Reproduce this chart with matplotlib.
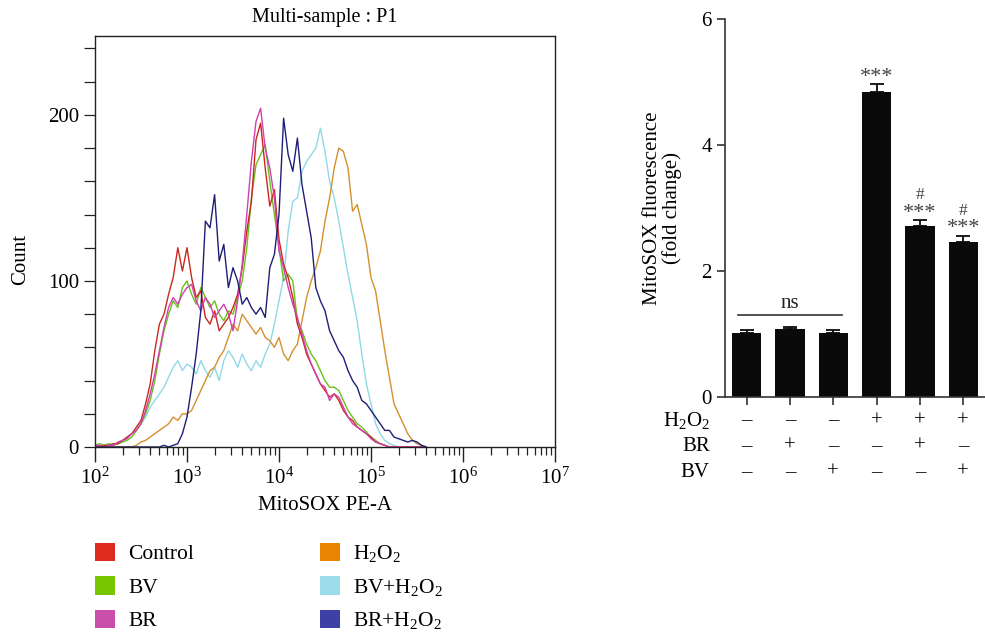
import numpy as np
import matplotlib
matplotlib.use("Agg")
import matplotlib.pyplot as plt
from matplotlib.ticker import LogLocator, NullFormatter, FixedLocator, MultipleLocator, LogFormatterMathtext
from matplotlib.patches import Patch

plt.rcParams['font.family'] = ['Liberation Serif', 'DejaVu Serif']
plt.rcParams['mathtext.fontset'] = 'custom'
plt.rcParams['mathtext.rm'] = 'Liberation Serif'
plt.rcParams['mathtext.it'] = 'Liberation Serif:italic'

# --- histogram, x = log10(MitoSOX PE-A), bins of 0.05 decade
log_bins = np.round(np.arange(2.0, 5.601, 0.05), 2)

control = [1, 0, 1, 1, 2, 2,
           4, 6, 8, 12, 16, 26,
           38, 58, 74, 80, 92, 102,
           120, 106, 120, 102, 90, 94,
           78, 74, 82, 70, 74, 78,
           84, 92, 108, 130, 148, 185,
           195, 168, 145, 155, 125, 110,
           102, 90, 74, 66, 56, 50,
           44, 38, 34, 30, 32, 28,
           22, 18, 16, 12, 10, 8,
           6, 3, 2, 1, 0, 0,
           0, 0, 0, 0, 0, 0,
           0]
bv = [1, 2, 1, 2, 1, 2,
      3, 4, 6, 10, 14, 20,
      28, 40, 56, 70, 80, 88,
      84, 96, 100, 92, 86, 96,
      90, 84, 88, 80, 76, 82,
      80, 90, 100, 120, 150, 170,
      176, 182, 160, 140, 120, 100,
      104, 100, 76, 70, 62, 56,
      52, 46, 40, 36, 36, 34,
      28, 22, 18, 14, 12, 9,
      6, 4, 2, 1, 0, 0,
      0, 0, 0, 0, 0, 0,
      0]
br = [1, 1, 0, 1, 1, 3,
      4, 5, 8, 10, 14, 22,
      32, 44, 58, 72, 84, 90,
      86, 92, 96, 98, 88, 82,
      90, 86, 78, 82, 86, 80,
      70, 88, 110, 140, 172, 196,
      204, 180, 168, 150, 118, 108,
      96, 86, 78, 68, 58, 50,
      44, 38, 36, 28, 32, 30,
      24, 18, 14, 12, 10, 8,
      5, 3, 2, 1, 0, 0,
      0, 0, 0, 0, 0, 0,
      0]
h2o2 = [0, 0, 0, 0, 0, 0,
        0, 0, 0, 1, 3, 4,
        6, 8, 10, 12, 14, 18,
        16, 20, 20, 22, 28, 34,
        40, 46, 48, 54, 58, 66,
        74, 70, 80, 76, 72, 68,
        72, 66, 64, 60, 66, 56,
        52, 58, 62, 76, 90, 100,
        108, 118, 136, 150, 168, 180,
        178, 168, 142, 146, 134, 122,
        102, 94, 76, 58, 42, 26,
        20, 14, 8, 4, 2, 1,
        0]
bv_h2o2 = [0, 1, 0, 1, 1, 2,
           4, 6, 8, 10, 14, 18,
           24, 28, 32, 36, 42, 48,
           52, 46, 50, 48, 44, 52,
           46, 42, 48, 40, 52, 58,
           54, 48, 56, 50, 46, 52,
           48, 56, 62, 74, 88, 102,
           130, 148, 150, 166, 172, 176,
           180, 192, 178, 160, 150, 136,
           120, 104, 90, 76, 56, 38,
           26, 14, 8, 4, 2, 1,
           0, 0, 0, 0, 0, 0,
           0]
br_h2o2 = [0, 0, 0, 0, 0, 0,
           0, 0, 0, 0, 0, 0,
           0, 0, 0, 1, 0, 1,
           2, 8, 18, 36, 56, 82,
           136, 132, 152, 112, 122, 96,
           108, 100, 86, 90, 84, 80,
           84, 78, 108, 116, 140, 198,
           176, 166, 186, 158, 142, 126,
           96, 88, 82, 70, 64, 58,
           54, 46, 40, 36, 28, 26,
           22, 18, 14, 10, 10, 6,
           5, 4, 3, 4, 3, 1,
           0]

hist_labels = ['Control', 'BV', 'BR', 'H$_2$O$_2$', 'BV+H$_2$O$_2$', 'BR+H$_2$O$_2$']
hist_series = [control, bv, br, h2o2, bv_h2o2, br_h2o2]
legend_colors = ['#DD2C1E', '#77C600', '#C94FAB', '#E98300', '#9ADDE9', '#3F40A5']
line_colors = ['#c8281e', '#66c21a', '#d23fae', '#d4902e', '#8fd9e8', '#1e1e78']

# --- bar chart
bar_vals = [1.02, 1.076, 1.02, 4.84, 2.71, 2.47]
bar_err = [0.05, 0.035, 0.05, 0.13, 0.10, 0.09]
h2o2_row = ['–', '–', '–', '+', '+', '+']
br_row = ['–', '+', '–', '–', '+', '–']
bv_row = ['–', '–', '+', '–', '–', '+']
stars = ['', '', '', '***', '***', '***']
hashes = ['', '', '', '', '#', '#']

fs = 15

fig = plt.figure(figsize=(9.85, 6.38), dpi=100)

# ---------------- left: histogram
ax = fig.add_axes([95/985, 1 - 447/638, 460/985, 411/638])
x = 10 ** log_bins
# light lines first, dark ones on top
order = [4, 3, 1, 0, 2, 5]
for i in order:
    ax.plot(x, hist_series[i], color=line_colors[i], lw=1.0)
ax.set_xscale('log')
ax.set_xlim(1e2, 1e7)
ax.set_ylim(0, 247.5)
ax.yaxis.set_major_locator(FixedLocator([0, 100, 200]))
ax.yaxis.set_minor_locator(MultipleLocator(20))
ax.xaxis.set_major_locator(LogLocator(base=10, numticks=10))
ax.xaxis.set_major_formatter(LogFormatterMathtext())
ax.xaxis.set_minor_locator(LogLocator(base=10, subs=np.arange(2, 10), numticks=20))
ax.xaxis.set_minor_formatter(NullFormatter())
ax.tick_params(axis='both', which='both', direction='out', labelsize=fs, color='#222222')
ax.tick_params(axis='x', which='major', length=11, width=1, pad=4)
ax.tick_params(axis='x', which='minor', length=6, width=0.9)
ax.tick_params(axis='y', which='both', length=8, width=0.9)
for s in ax.spines.values():
    s.set_linewidth(1.0)
    s.set_color('#222222')
ax.set_title('Multi-sample : P1', fontsize=14.5, pad=10)
ax.set_xlabel('MitoSOX PE-A', fontsize=fs, labelpad=5)
ax.set_ylabel('Count', fontsize=fs)
ax.yaxis.set_label_coords(-0.14, 0.457)

handles = [Patch(facecolor=c, edgecolor='none') for c in legend_colors]
fig.legend(handles, hist_labels, loc='upper left', bbox_to_anchor=(86/985, 1 - 534/638),
           ncol=2, frameon=False, fontsize=15.5, handlelength=0.95, handleheight=0.95,
           handletextpad=0.6, labelspacing=0.55, columnspacing=5.85, borderaxespad=0)

# ---------------- right: bars
bx = fig.add_axes([725/985, 1 - 397/638, 260/985, 377.7/638])
pos = np.arange(len(bar_vals))
bx.bar(pos, bar_vals, width=0.68, color='#0a0a0a', zorder=2)
bx.errorbar(pos, bar_vals, yerr=[np.zeros(len(bar_err)), bar_err], fmt='none',
            ecolor='#0a0a0a', elinewidth=1.3, capsize=5, capthick=1.3, zorder=1)
bx.set_xlim(-0.5, 5.5)
bx.set_ylim(0, 6)
bx.set_yticks([0, 2, 4, 6])
bx.set_xticks(pos)
bx.set_xticklabels([])
bx.spines['top'].set_visible(False)
bx.spines['right'].set_visible(False)
for s in ['left', 'bottom']:
    bx.spines[s].set_linewidth(1.2)
    bx.spines[s].set_color('#333333')
bx.tick_params(axis='both', direction='out', length=6, width=1.2, color='#333333', labelsize=fs)
bx.set_ylabel('MitoSOX fluorescence\n(fold change)', fontsize=fs, linespacing=1.0)
bx.yaxis.set_label_coords(-0.165, 0.5)

for i in pos:
    top = bar_vals[i] + bar_err[i]
    if stars[i]:
        bx.text(i, top - 0.04, stars[i], ha='center', va='bottom', fontsize=16, color='#444444')
    if hashes[i]:
        bx.text(i, top + 0.27, hashes[i], ha='center', va='bottom', fontsize=12.5, color='#444444')

bx.plot([-0.2, 2.2], [1.30, 1.30], color='#333333', lw=1.2, clip_on=False)
bx.text(1, 1.33, 'ns', ha='center', va='bottom', fontsize=fs, color='#222222')

tr = bx.get_xaxis_transform()
rows = [('H$_2$O$_2$', h2o2_row, -0.0635), ('BR', br_row, -0.13), ('BV', bv_row, -0.199)]
for name, signs, yy in rows:
    bx.text(-0.85, yy, name, transform=tr, ha='right', va='center', fontsize=fs)
    for i, sgn in zip(pos, signs):
        bx.text(i, yy, sgn, transform=tr, ha='center', va='center', fontsize=fs)

fig.savefig('out.png', dpi=100)
